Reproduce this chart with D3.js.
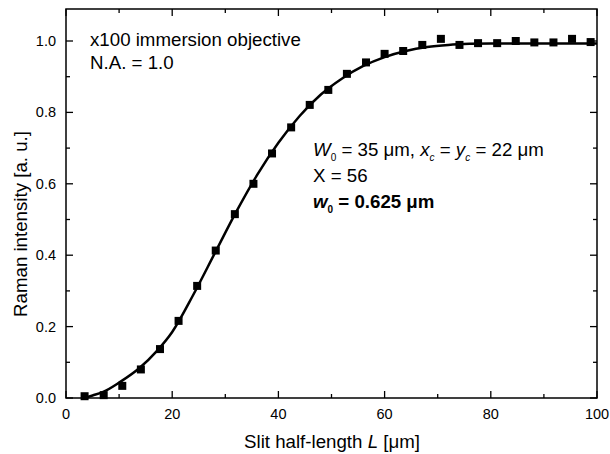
<!DOCTYPE html>
<html><head><meta charset="utf-8">
<script src="https://cdn.jsdelivr.net/npm/d3@7"></script>
<style>body{margin:0;background:#fff}svg{display:block}text{font-family:"Liberation Sans",Arial,sans-serif;fill:#000}</style>
</head><body><svg id="c" width="610" height="454"></svg>
<script>
const slitL = [3.5,7.1,10.6,14.1,17.7,21.2,24.7,28.2,31.8,35.3,38.8,42.4,45.9,49.4,52.9,56.5,60.0,63.5,67.1,70.6,74.1,77.6,81.2,84.7,88.2,91.8,95.3,98.8];
const intensity = [0.005,0.008,0.034,0.080,0.137,0.216,0.314,0.413,0.515,0.600,0.685,0.758,0.821,0.863,0.908,0.940,0.964,0.972,0.989,1.006,0.989,0.994,0.994,1.000,0.996,0.996,1.006,0.997];
const fitL = [3.5,5,7,10,14,17,20,24,28,32,36,40,44,48,52,56,60,64,68,72,76,80,90,100];
const fitI = [0.0,0.007,0.017,0.043,0.086,0.13,0.185,0.29,0.405,0.52,0.625,0.715,0.79,0.85,0.895,0.93,0.955,0.972,0.983,0.989,0.992,0.993,0.993,0.993];
const xTicks = [0,20,40,60,80,100];
const yTicks = [0.0,0.2,0.4,0.6,0.8,1.0];

const svg = d3.select("#c");
const L = 66, R = 597, T = 9, B = 398;
const x = d3.scaleLinear().domain([0,100]).range([L,R]);
const y = d3.scaleLinear().domain([0,1]).range([B,41]);
const FS = 18.7, TS = 14.5;

const g = svg.append("g");
g.append("rect").attr("x",L).attr("y",T).attr("width",R-L).attr("height",B-T)
 .attr("fill","none").attr("stroke","#000").attr("stroke-width",1.5);

const xMinor = d3.range(10,100,20), yMinor = d3.range(0.1,1.1,0.2);
function ticks(axis, vals, len){
  vals.forEach(v=>{
    if(axis==="x"){
      g.append("line").attr("x1",x(v)).attr("x2",x(v)).attr("y1",B).attr("y2",B-len).attr("stroke","#000").attr("stroke-width",1.3);
      g.append("line").attr("x1",x(v)).attr("x2",x(v)).attr("y1",T).attr("y2",T+len).attr("stroke","#000").attr("stroke-width",1.3);
    } else {
      g.append("line").attr("y1",y(v)).attr("y2",y(v)).attr("x1",L).attr("x2",L+len).attr("stroke","#000").attr("stroke-width",1.3);
      g.append("line").attr("y1",y(v)).attr("y2",y(v)).attr("x1",R).attr("x2",R-len).attr("stroke","#000").attr("stroke-width",1.3);
    }
  });
}
ticks("x", xTicks, 7); ticks("x", xMinor, 4);
ticks("y", yTicks, 7); ticks("y", yMinor, 4);

xTicks.forEach(v=>g.append("text").attr("x",x(v)).attr("y",419).attr("text-anchor","middle").attr("font-size",TS).text(v));
yTicks.forEach(v=>g.append("text").attr("x",56).attr("y",y(v)+5).attr("text-anchor","end").attr("font-size",TS).text(v.toFixed(1)));

const xt = g.append("text").attr("x",332).attr("y",448).attr("text-anchor","middle").attr("font-size",FS);
xt.append("tspan").text("Slit half-length ");
xt.append("tspan").attr("font-style","italic").text("L");
xt.append("tspan").text(" [\u03bcm]");
g.append("text").attr("transform","translate(27,224) rotate(-90)").attr("text-anchor","middle").attr("font-size",FS).text("Raman intensity [a. u.]");

const line = d3.line().x((d,i)=>x(fitL[i])).y((d,i)=>y(fitI[i])).curve(d3.curveMonotoneX);
g.append("path").datum(fitI).attr("d",line).attr("fill","none").attr("stroke","#000").attr("stroke-width",2.5);

const s = 8;
g.selectAll("rect.pt").data(intensity).enter().append("rect").attr("class","pt")
 .attr("x",(d,i)=>x(slitL[i])-s/2).attr("y",d=>y(d)-s/2).attr("width",s).attr("height",s).attr("fill","#000");

g.append("text").attr("x",90).attr("y",46).attr("font-size",FS).text("x100 immersion objective");
g.append("text").attr("x",90).attr("y",69).attr("font-size",FS).text("N.A. = 1.0");

const a1 = g.append("text").attr("x",313).attr("y",156).attr("font-size",FS);
a1.append("tspan").attr("font-style","italic").text("W");
a1.append("tspan").attr("font-size",10).attr("dy",5).text("0");
a1.append("tspan").attr("dy",-5).text(" = 35 \u03bcm, ");
a1.append("tspan").attr("font-style","italic").text("x");
a1.append("tspan").attr("font-size",10).attr("font-style","italic").attr("dy",5).text("c");
a1.append("tspan").attr("dy",-5).text(" = ");
a1.append("tspan").attr("font-style","italic").text("y");
a1.append("tspan").attr("font-size",10).attr("font-style","italic").attr("dy",5).text("c");
a1.append("tspan").attr("dy",-5).text(" = 22 \u03bcm");
g.append("text").attr("x",313).attr("y",182).attr("font-size",FS).text("X = 56");
const a3 = g.append("text").attr("x",313).attr("y",208).attr("font-size",FS).attr("font-weight","bold");
a3.append("tspan").attr("font-style","italic").text("w");
a3.append("tspan").attr("font-size",10).attr("dy",5).text("0");
a3.append("tspan").attr("dy",-5).text(" = 0.625 \u03bcm");
</script></body></html>
